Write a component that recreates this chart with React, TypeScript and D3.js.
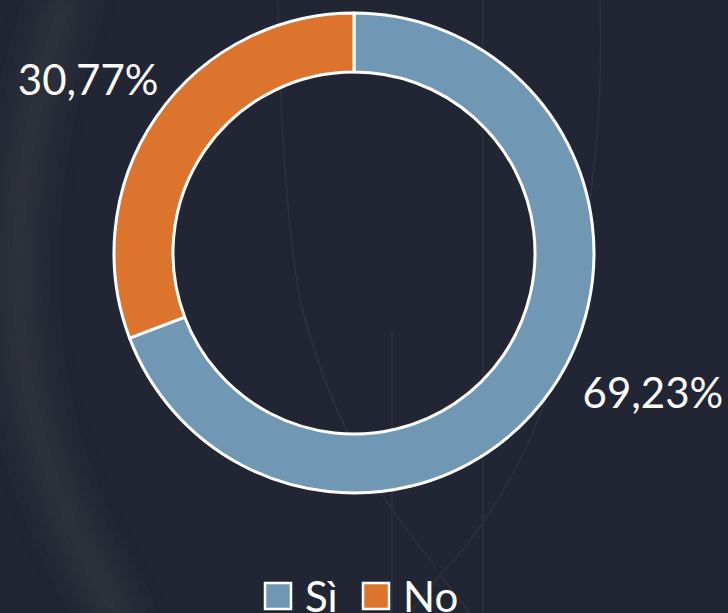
import React from "react";
import * as d3 from "d3";

const categories = ["Sì", "No"];
const values = [69.23, 30.77];
const colors = ["#7098b5", "#dd742d"];

const W = 728;
const H = 613;
const cx = 354;
const cy = 253;
const outerR = 240;
const innerR = 181;

export default function App() {
  const pie = d3.pie<number>().sort(null).value((d) => d)(values);
  const arc = d3.arc<d3.PieArcDatum<number>>().innerRadius(innerR).outerRadius(outerR);
  const fmt = (v: number) => v.toFixed(2).replace(".", ",") + "%";
  const font = "Lato, 'Open Sans', sans-serif";

  return (
    <svg width={W} height={H} style={{ position: "absolute", left: 0, top: 0, display: "block" }}>
      <defs>
        <filter id="blur" x="-50%" y="-50%" width="200%" height="200%">
          <feGaussianBlur stdDeviation="14" />
        </filter>
      </defs>
      <rect width={W} height={H} fill="#222634" />
      {/* faint decorative background curves */}
      <path d="M70,-10 C10,150 0,330 50,470 C75,540 100,590 125,630" fill="none" stroke="#33343c" strokeWidth={40} filter="url(#blur)" opacity={0.8} />
      <g fill="none" stroke="#2c3040" strokeWidth={1.5}>
        <path d="M278,0 C280,120 286,220 300,300 C330,420 380,500 436,567" />
        <path d="M483,0 L483,613" />
        <path d="M392,330 L392,613" />
        <path d="M600,0 C605,150 580,330 525,450 C500,500 470,545 440,575" />
        <path d="M440,575 L470,613 M440,575 L410,613" />
      </g>
      <g transform={`translate(${cx},${cy})`}>
        {pie.map((p, i) => (
          <path key={categories[i]} d={arc(p) || ""} fill={colors[i]} stroke="#ffffff" strokeWidth={3} strokeLinejoin="round" />
        ))}
        {pie.map((p, i) => {
          const mid = (p.startAngle + p.endAngle) / 2;
          const x = Math.sin(mid) * outerR;
          const y = -Math.cos(mid) * outerR;
          const right = x > 0;
          return (
            <text
              key={"l" + i}
              x={right ? x + 31 : x + 2}
              y={right ? y + 19 : y - 22}
              textAnchor={right ? "start" : "end"}
              fill="#ffffff"
              fontFamily={font}
              fontSize={42}
            >
              {fmt(values[i])}
            </text>
          );
        })}
      </g>
      <g transform="translate(264,582)">
        {categories.map((c, i) => (
          <g key={c} transform={`translate(${i * 98},0)`}>
            <rect x={1} y={1} width={26} height={26} fill={colors[i]} stroke="#ffffff" strokeWidth={2.5} />
            <text x={41} y={30} fill="#ffffff" fontFamily={font} fontSize={42}>
              {c}
            </text>
          </g>
        ))}
      </g>
    </svg>
  );
}
